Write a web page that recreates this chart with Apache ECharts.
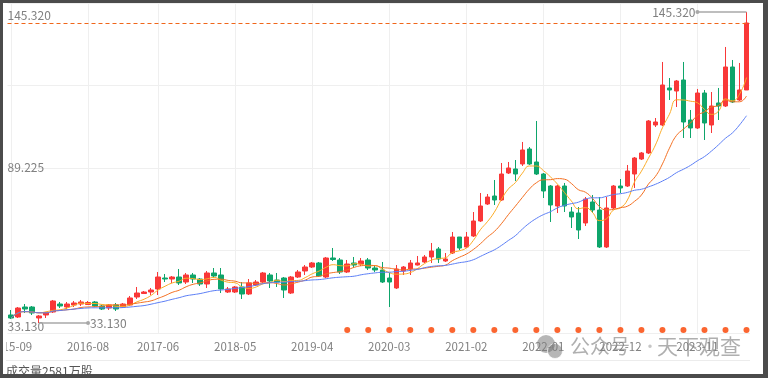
<!DOCTYPE html>
<html lang="zh-CN">
<head>
<meta charset="UTF-8">
<title>月K线</title>
<script src="https://cdn.jsdelivr.net/npm/echarts@6/dist/echarts.min.js"></script>
<style>
  html, body { margin: 0; padding: 0; background: #fff; }
  #wrap { position: relative; width: 768px; height: 378px; overflow: hidden; background: #fff; }
  #main { position: absolute; left: 6px; top: 3px; width: 757px; height: 371px; }
  #frame {
    position: absolute; left: 0; top: 0; width: 768px; height: 378px;
    box-sizing: border-box; border-style: solid; border-color: #4b4b4b;
    border-width: 3px 5px 4px 3px; pointer-events: none;
  }
</style>
</head>
<body>
<div id="wrap"><div id="main"></div><div id="frame"></div></div>
<script>
// 月份
const months = [
  '2015-09','2015-10','2015-11','2015-12',
  '2016-01','2016-02','2016-03','2016-04','2016-05','2016-06','2016-07','2016-08','2016-09','2016-10','2016-11','2016-12',
  '2017-01','2017-02','2017-03','2017-04','2017-05','2017-06','2017-07','2017-08','2017-09','2017-10','2017-11','2017-12',
  '2018-01','2018-02','2018-03','2018-04','2018-05','2018-06','2018-07','2018-08','2018-09','2018-10','2018-11','2018-12',
  '2019-01','2019-02','2019-03','2019-04','2019-05','2019-06','2019-07','2019-08','2019-09','2019-10','2019-11','2019-12',
  '2020-01','2020-02','2020-03','2020-04','2020-05','2020-06','2020-07','2020-08','2020-09','2020-10','2020-11','2020-12',
  '2021-01','2021-02','2021-03','2021-04','2021-05','2021-06','2021-07','2021-08','2021-09','2021-10','2021-11','2021-12',
  '2022-01','2022-02','2022-03','2022-04','2022-05','2022-06','2022-07','2022-08','2022-09','2022-10','2022-11','2022-12',
  '2023-01','2023-02','2023-03','2023-04','2023-05','2023-06','2023-07','2023-08','2023-09','2023-10','2023-11','2023-12',
  '2024-01','2024-02','2024-03','2024-04','2024-05','2024-06'
];

const open = [
  36.02,35.30,38.90,38.90,34.93,36.02,37.10,39.98,38.90,39.62,
  39.98,39.80,40.71,39.26,38.54,39.62,38.90,39.62,42.51,43.77,
  44.31,45.40,49.36,49.00,49.72,47.92,50.45,49.00,47.20,51.17,
  50.45,44.31,44.31,46.12,43.59,46.84,47.92,50.45,48.64,49.36,
  43.95,49.72,51.89,53.33,54.78,49.72,56.58,55.86,51.53,54.78,
  54.41,55.86,52.97,52.25,49.36,45.76,51.89,52.61,54.05,55.14,
  56.94,59.83,55.50,58.38,64.15,60.55,64.52,69.93,76.06,78.94,
  77.50,87.24,88.69,90.49,95.90,91.21,86.88,82.55,75.34,82.55,
  73.17,72.81,69.21,76.78,73.89,60.55,74.62,82.55,82.55,86.88,
  92.29,94.46,104.56,104.56,117.91,116.82,120.79,106.36,103.48,116.10,
  104.56,112.50,111.41,125.48,113.58,117.19
];
const close = [
  34.93,38.54,38.18,36.74,35.66,36.74,41.07,39.26,39.98,40.35,
  40.71,40.53,39.26,38.18,39.62,38.18,39.98,42.15,43.95,44.31,
  45.03,49.72,49.00,49.72,47.56,50.45,49.00,47.20,51.17,50.09,
  45.40,45.40,46.12,43.59,47.56,47.92,51.17,48.28,47.92,45.03,
  49.72,51.53,53.33,54.78,50.09,56.58,56.04,51.53,54.41,54.05,
  55.50,52.97,52.25,47.92,47.92,52.61,53.33,54.78,54.78,56.94,
  59.10,56.22,56.22,64.15,60.19,64.15,69.93,75.34,78.58,77.50,
  86.88,89.05,86.88,95.54,90.49,86.88,80.75,75.70,82.55,75.34,
  71.37,66.68,77.86,73.89,60.55,74.62,82.55,81.83,87.96,92.65,
  94.46,106.00,105.64,118.99,117.19,120.43,105.64,103.48,116.10,105.28,
  111.41,111.41,125.48,112.86,117.19,141.36
];
const low = [
  34.57,34.93,36.74,36.02,33.13,34.93,36.74,38.54,38.18,38.90,
  39.26,39.62,38.90,37.82,37.82,37.46,38.54,39.26,41.79,43.59,
  43.23,43.23,47.92,47.56,46.84,47.20,47.56,46.48,45.76,49.36,
  43.95,43.95,43.95,41.79,43.23,46.48,47.56,45.76,46.12,42.15,
  43.59,49.36,50.45,52.97,49.72,49.36,55.50,50.81,51.17,52.97,
  53.69,52.25,51.53,47.56,38.90,45.40,50.45,50.45,53.87,54.78,
  54.78,54.78,55.14,58.02,59.46,60.19,64.15,69.57,75.70,75.70,
  77.14,86.88,84.36,89.77,90.13,86.52,78.22,69.57,72.81,73.17,
  67.40,63.43,68.12,72.81,60.19,60.19,74.26,80.03,82.19,81.83,
  91.93,94.10,103.84,104.20,113.58,111.05,99.87,99.87,103.12,99.15,
  101.67,106.36,111.05,112.50,113.22,117.19
];
const high = [
  37.82,38.90,39.98,39.26,36.02,37.10,41.43,40.71,40.71,41.07,
  41.43,41.07,41.07,39.62,39.98,40.35,40.35,42.87,46.12,44.67,
  45.76,51.53,50.81,50.09,52.61,51.17,51.17,49.36,51.89,52.97,
  52.97,46.12,46.48,47.92,49.00,48.64,51.53,51.17,51.17,49.72,
  50.09,52.25,54.05,55.14,55.14,56.94,60.19,56.58,55.86,56.94,
  56.58,56.58,53.69,55.14,51.17,54.05,53.69,55.86,57.30,57.66,
  61.99,60.55,58.38,65.96,64.15,65.96,73.17,80.03,79.67,84.72,
  90.85,91.21,91.93,98.43,96.62,106.00,87.24,82.91,82.91,83.64,
  74.98,74.98,78.58,79.31,78.58,78.58,82.91,85.08,90.13,93.01,
  94.82,106.36,107.08,127.29,121.51,120.79,127.29,109.97,117.55,117.19,
  116.46,117.91,132.70,128.01,126.93,145.32
];

// 横轴显示的月份
const tickMonths = ['2015-09','2016-08','2017-06','2018-05','2019-04','2020-03','2021-02','2022-01','2022-12','2023-11'];
// 底部圆点所在月份
const markMonths = ['2019-09','2019-12','2020-03','2020-06','2020-09','2020-12','2021-03','2021-06','2021-09','2021-12',
  '2022-03','2022-06','2022-09','2022-12','2023-03','2023-06','2023-09','2023-12','2024-03','2024-06'];
const priceTicks = [33.13, 89.225, 145.32];
const volumeText = '成交量2581万股';

const font = '"Noto Sans CJK SC", "Noto Sans", sans-serif';
const kData = months.map((m, i) => [open[i], close[i], low[i], high[i]]);

function ma(n) {
  return close.map((_, i) => {
    const from = Math.max(0, i - n + 1);
    let s = 0;
    for (let k = from; k <= i; k++) s += close[k];
    return +(s / (i - from + 1)).toFixed(3);
  });
}

const maxVal = Math.max(...high);
const maxIdx = high.indexOf(maxVal);
const minVal = Math.min(...low);
const minIdx = low.indexOf(minVal);
const lastClose = close[close.length - 1];
const showTick = (idx, val) => tickMonths.includes(val);

const chart = echarts.init(document.getElementById('main'));
chart.setOption({
  animation: false,
  textStyle: { fontFamily: font },
  grid: [
    { left: 1.5, right: 13, top: 9, bottom: 51, outerBoundsMode: 'none', containLabel: false },
    { left: 1.5, right: 13, top: 0, bottom: 41, outerBoundsMode: 'none', containLabel: false }
  ],
  xAxis: [
    {
      type: 'category', gridIndex: 0, data: months, boundaryGap: true,
      axisLine: { show: false }, axisTick: { show: false },
      axisLabel: { show: false }, splitLine: { show: false }
    },
    {
      type: 'category', gridIndex: 1, data: months, boundaryGap: true,
      axisLine: { show: false }, axisTick: { show: false },
      axisLabel: {
        interval: showTick, color: '#808080', fontSize: 11.5, margin: 8, fontFamily: font,
        alignMinLabel: 'center', alignMaxLabel: 'center', hideOverlap: false
      },
      splitLine: { show: true, interval: showTick, alignWithLabel: true, lineStyle: { color: '#efefef', width: 1 } }
    }
  ],
  yAxis: [
    {
      type: 'value', gridIndex: 0, min: 33.13, max: 145.32,
      axisLine: { show: false }, axisTick: { show: false }, splitLine: { show: false },
      axisLabel: {
        inside: true, margin: 0, customValues: priceTicks,
        // 上下两端的标签比刻度略低一点
        formatter: v => (v === 89.225 ? '{m|' : '{e|') + v.toFixed(3) + '}',
        rich: {
          m: { color: '#808080', fontSize: 12, fontFamily: font },
          e: { color: '#808080', fontSize: 12, fontFamily: font, padding: [6, 0, 0, 0] }
        }
      }
    },
    {
      type: 'value', gridIndex: 1, min: 0, max: 4, interval: 1,
      axisLine: { show: false }, axisTick: { show: false }, axisLabel: { show: false },
      splitLine: { lineStyle: { color: '#efefef', width: 1 } }
    }
  ],
  series: [
    {
      type: 'candlestick', name: 'K', xAxisIndex: 0, yAxisIndex: 0,
      data: kData, barWidth: 5,
      itemStyle: {
        color: '#f93838', color0: '#0ea56b',
        borderColor: '#f93838', borderColor0: '#0ea56b', borderWidth: 1
      },
      markLine: {
        silent: true, animation: false, symbol: ['none', 'none'],
        lineStyle: { type: 'solid', color: '#a8a8a8', width: 1.5 },
        data: [
          [
            {
              coord: [months[maxIdx - 7], maxVal], symbol: 'circle', symbolSize: 4,
              label: { show: true, position: 'start', distance: 2, formatter: maxVal.toFixed(3), color: '#808080', fontSize: 12, fontFamily: font }
            },
            { coord: [months[maxIdx], maxVal], symbol: 'none' }
          ],
          [
            {
              coord: [months[minIdx], minVal], symbol: 'none',
              label: { show: true, position: 'end', distance: 2, formatter: minVal.toFixed(3), color: '#808080', fontSize: 12, fontFamily: font }
            },
            { coord: [months[minIdx + 7], minVal], symbol: 'circle', symbolSize: 4 }
          ]
        ]
      }
    },
    {
      type: 'line', name: 'MA5', data: ma(5), smooth: true, showSymbol: false,
      lineStyle: { width: 1, color: '#fbab25' }, itemStyle: { color: '#fbab25' },
      // 最新价虚线
      markLine: {
        silent: true, animation: false, symbol: ['none', 'none'],
        lineStyle: { type: [4, 3], color: '#f0661a', width: 1.2, opacity: 1 },
        label: { show: false },
        data: [{ yAxis: lastClose }]
      }
    },
    { type: 'line', name: 'MA10', data: ma(10), smooth: true, showSymbol: false, lineStyle: { width: 1, color: '#f36f21' }, itemStyle: { color: '#f36f21' } },
    { type: 'line', name: 'MA20', data: ma(20), smooth: true, showSymbol: false, lineStyle: { width: 1, color: '#5a7df5' }, itemStyle: { color: '#5a7df5' } },
    {
      type: 'scatter', xAxisIndex: 1, yAxisIndex: 1,
      data: markMonths.map(m => [m, 0]), symbolSize: 6, symbolOffset: [0, -3],
      itemStyle: { color: '#fb6530', opacity: 1 }
    }
  ],
  graphic: [
    { type: 'line', shape: { x1: 0, y1: 357.5, x2: 744, y2: 357.5 }, style: { stroke: '#ececec', lineWidth: 1 }, silent: true },
    { type: 'text', left: 0, top: 362, style: { text: volumeText, fill: '#555', font: '12px ' + font }, silent: true },
    {
      type: 'group', silent: true, z: 100,
      children: [
        { type: 'circle', shape: { cx: 540, cy: 341, r: 9 }, style: { fill: 'rgba(110,110,110,0.5)' } },
        { type: 'circle', shape: { cx: 549, cy: 348, r: 7.5 }, style: { fill: 'rgba(110,110,110,0.5)', stroke: 'rgba(255,255,255,0.7)', lineWidth: 1 } },
        { type: 'text', x: 564, y: 343, style: { text: '公众号', fill: 'rgba(110,110,110,0.55)', font: '20px ' + font, verticalAlign: 'middle' } },
        { type: 'text', x: 636, y: 343, style: { text: '·', fill: 'rgba(110,110,110,0.4)', font: '16px ' + font, verticalAlign: 'middle' } },
        { type: 'text', x: 651, y: 343, style: { text: '天下观查', fill: 'rgba(110,110,110,0.55)', font: '21px ' + font, verticalAlign: 'middle' } }
      ]
    }
  ]
});
</script>
</body>
</html>
